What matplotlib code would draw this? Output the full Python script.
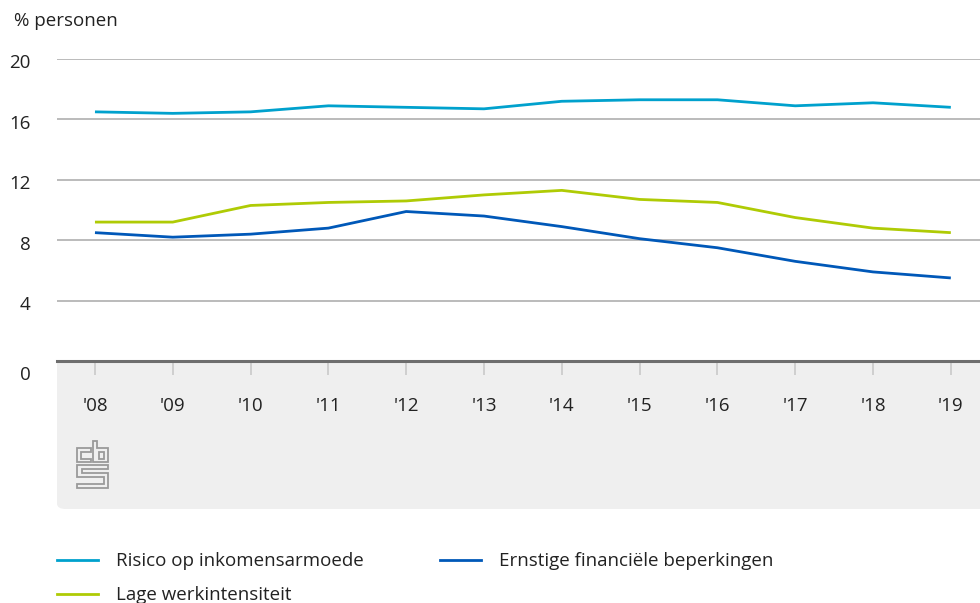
import matplotlib
matplotlib.use("Agg")
import matplotlib.pyplot as plt
from matplotlib.lines import Line2D
from matplotlib.patches import FancyBboxPatch, Polygon
from matplotlib.transforms import ScaledTranslation

plt.rcParams['font.family'] = ['Open Sans', 'DejaVu Sans']

years = ["'08", "'09", "'10", "'11", "'12", "'13", "'14", "'15", "'16", "'17", "'18", "'19"]
risico = [16.5, 16.4, 16.5, 16.9, 16.8, 16.7, 17.2, 17.3, 17.3, 16.9, 17.1, 16.8]
ernstig = [8.5, 8.2, 8.4, 8.8, 9.9, 9.6, 8.9, 8.1, 7.5, 6.6, 5.9, 5.5]
lage = [9.2, 9.2, 10.3, 10.5, 10.6, 11.0, 11.3, 10.7, 10.5, 9.5, 8.8, 8.5]
yticks = [0, 4, 8, 12, 16, 20]

series = [
    ("Risico op inkomensarmoede", risico, "#00a1cd"),
    ("Ernstige financiële beperkingen", ernstig, "#0058b8"),
    ("Lage werkintensiteit", lage, "#afcb05"),
]

FS = 13.5
TXT = "#222222"
W, H = 980, 603
fig = plt.figure(figsize=(W / 100, H / 100), dpi=100)

def fx(px):
    return px / W

def fy(py):
    return 1 - py / H

ax = fig.add_axes([fx(57), fy(361), 1 - fx(57), fy(59) - fy(361)])
ax.set_facecolor("white")

# grey footer band under the x axis
band = FancyBboxPatch((fx(57), fy(509)), fx(1000) - fx(57), fy(350) - fy(509),
                      boxstyle="round,pad=0,rounding_size=0.009",
                      transform=fig.transFigure, facecolor="#efefef",
                      edgecolor="none", zorder=-5)
fig.patches.append(band)

x = list(range(len(years)))
for name, vals, col in series:
    ax.plot(x, vals, color=col, lw=2.0, label=name, solid_capstyle="butt", zorder=3)

ax.set_xlim(-0.488, 11.375)
ax.set_ylim(0, 20)
ax.set_yticks(yticks)
ax.set_yticklabels([str(v) for v in yticks])
ax.set_xticks(x)
ax.set_xticklabels(years)
ax.yaxis.grid(True, color="#a8a8a8", lw=1.1)
ax.set_axisbelow(True)
for s in ["top", "right", "left"]:
    ax.spines[s].set_visible(False)
ax.spines["bottom"].set_color("#6e6e6e")
ax.spines["bottom"].set_linewidth(2.2)
ax.spines["bottom"].set_zorder(4)
ax.tick_params(axis="x", length=10, width=1.3, color="#cccccc", pad=16,
               labelsize=FS, labelcolor=TXT)
ax.tick_params(axis="y", length=0, pad=19, labelsize=FS, labelcolor=TXT)

# y labels sit slightly under their gridline, the zero label further down
for lbl in ax.get_yticklabels():
    dy = -12 if lbl.get_text() == "0" else -2.5
    lbl.set_transform(lbl.get_transform() + ScaledTranslation(0, dy / 100, fig.dpi_scale_trans))

fig.text(fx(14), fy(21), "% personen", fontsize=FS, color=TXT, va="center", ha="left")

# logo
def logo_poly(pts):
    return Polygon([(fx(65 + a), fy(430 + b)) for a, b in pts], closed=True,
                   fill=False, edgecolor="#9a9a9a", lw=1.3, transform=fig.transFigure)

c_shape = [(12.3, 18.3), (26, 18.3), (26, 22), (16, 22), (16, 28.7), (26, 28.7), (26, 32.3), (12.3, 32.3)]
b_shape = [(28, 11), (32, 11), (32, 18.3), (42.7, 18.3), (42.7, 32.3), (28, 32.3)]
b_hole = [(33.5, 22), (38.8, 22), (38.8, 28.7), (33.5, 28.7)]
s_shape = [(12.3, 35), (42.7, 35), (42.7, 39.3), (16.5, 39.3), (16.5, 43), (42.7, 43),
           (42.7, 58.3), (12.3, 58.3), (12.3, 54.2), (38.5, 54.2), (38.5, 47.2), (12.3, 47.2)]
for shp in [c_shape, b_shape, b_hole, s_shape]:
    fig.patches.append(logo_poly(shp))

# legend
legend_pos = [(57, 560), (440, 560), (57, 594)]
for (lx, ly), (name, _, col) in zip(legend_pos, series):
    fig.add_artist(Line2D([fx(lx), fx(lx + 41)], [fy(ly), fy(ly)], color=col, lw=2.0,
                          transform=fig.transFigure))
    fig.text(fx(lx + 59), fy(ly + 1), name, fontsize=FS, color=TXT, va="center", ha="left")

fig.savefig("out.png", dpi=100)
